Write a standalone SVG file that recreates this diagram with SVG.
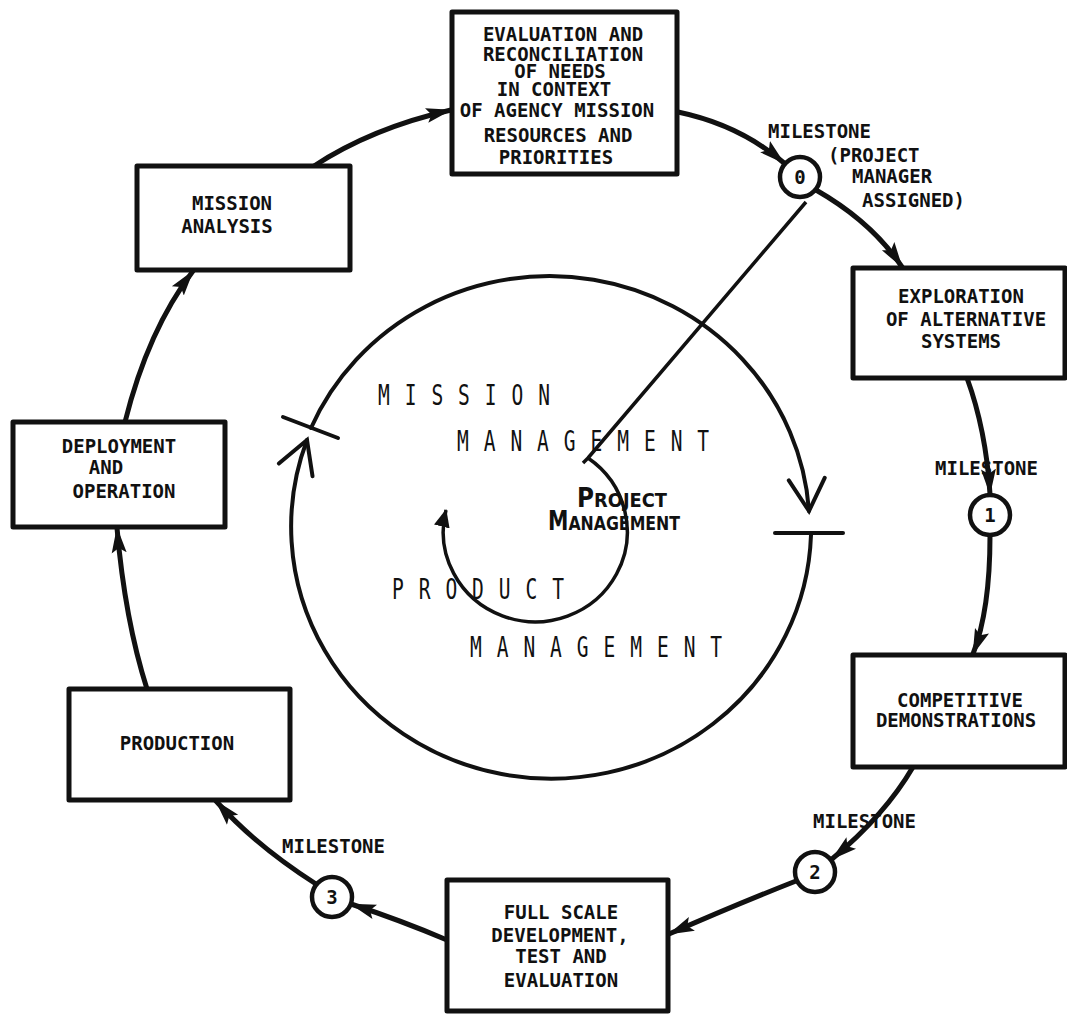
<svg xmlns="http://www.w3.org/2000/svg" width="1067" height="1021" viewBox="0 0 1067 1021">
  <defs>
    <style>
      .box { fill: #fff; stroke: #111; stroke-width: 5; stroke-linejoin: round; }
      .lbl { font-family: "DejaVu Sans Mono", "Liberation Mono", monospace; font-size: 19px; font-weight: bold; fill: #111; text-anchor: middle; }
      .ms { font-family: "DejaVu Sans Mono", "Liberation Mono", monospace; font-size: 19px; font-weight: bold; fill: #111; }
      .num { font-family: "DejaVu Sans Mono", "Liberation Mono", monospace; font-size: 19px; font-weight: bold; fill: #111; text-anchor: middle; }
      .mile { fill: #fff; stroke: #111; stroke-width: 4.5; }
      .flow { fill: none; stroke: #111; stroke-width: 5; stroke-linecap: round; marker-end: url(#head); }
      .ring { fill: none; stroke: #111; stroke-width: 4; stroke-linecap: round; }
      .wide { font-family: "DejaVu Sans Mono", "Liberation Mono", monospace; font-size: 28px; fill: #111; letter-spacing: 21.3px; }
      .pm { font-family: "DejaVu Sans", "Liberation Sans", sans-serif; font-weight: bold; fill: #111; }
    </style>
    <marker id="head" markerUnits="userSpaceOnUse" viewBox="0 0 26 18" refX="25" refY="9" markerWidth="26" markerHeight="18" orient="auto">
      <path d="M0,1.5 L26,9 L0,16.5 L5,9 z" fill="#111"/>
    </marker>
    <marker id="small" markerUnits="userSpaceOnUse" viewBox="0 0 18 16" refX="17" refY="8" markerWidth="18" markerHeight="16" orient="auto">
      <path d="M0,0 L18,8 L0,16 z" fill="#111"/>
    </marker>
    <marker id="open" markerUnits="userSpaceOnUse" viewBox="-40 -22 44 44" refX="0" refY="0" markerWidth="44" markerHeight="44" orient="auto">
      <path d="M-32,-18 L0,0 L-32,18" fill="none" stroke="#111" stroke-width="4" stroke-linecap="round" stroke-linejoin="miter"/>
    </marker>
  </defs>

  <!-- central management loops -->
  <g id="management-cycle">
    <path class="ring" d="M 311 428 A 260 252 0 0 1 809 511" marker-end="url(#open)"/>
    <path class="ring" d="M 811 535 A 260 252 0 1 1 307 440" marker-end="url(#open)"/>
    <line class="ring" x1="283" y1="417" x2="338" y2="438"/>
    <line class="ring" x1="775" y1="533" x2="843" y2="533"/>
    <path d="M 806 202 L 588 458 M 583 463 L 588 458 A 92 90 0 1 1 446 510" fill="none" stroke="#111" stroke-width="3.5" stroke-linejoin="miter" marker-end="url(#small)"/>
    <text class="wide" transform="translate(378,405) scale(0.7,1)">MISSION</text>
    <text class="wide" transform="translate(457,451) scale(0.7,1)">MANAGEMENT</text>
    <text class="wide" transform="translate(392,599) scale(0.7,1)">PRODUCT</text>
    <text class="wide" transform="translate(470,657) scale(0.7,1)">MANAGEMENT</text>
    <text class="pm" x="577" y="507" textLength="90" lengthAdjust="spacingAndGlyphs"><tspan font-size="26">P</tspan><tspan font-size="20">ROJECT</tspan></text>
    <text class="pm" x="548" y="530" textLength="132" lengthAdjust="spacingAndGlyphs"><tspan font-size="26">M</tspan><tspan font-size="20">ANAGEMENT</tspan></text>
  </g>

  <!-- connectors between phases -->
  <g id="connectors">
    <path class="flow" d="M 314 166 Q 372 128 451 110"/>
    <path class="flow" d="M 678 112 Q 740 125 784 163"/>
    <path class="flow" d="M 816 190 Q 872 222 902 267"/>
    <path class="flow" d="M 967 378 Q 986 430 990 494"/>
    <path class="flow" d="M 990 536 Q 990 610 973 654"/>
    <path class="flow" d="M 913 767 Q 885 815 832 859"/>
    <path class="flow" d="M 796 881 Q 735 905 669 934"/>
    <path class="flow" d="M 447 940 Q 400 920 351 904"/>
    <path class="flow" d="M 316 884 Q 255 845 216 801"/>
    <path class="flow" d="M 147 689 Q 125 620 117 528"/>
    <path class="flow" d="M 125 422 Q 148 330 193 271"/>
  </g>

  <g id="evaluation">
    <rect class="box" x="452" y="12" width="225" height="162"/>
    <text class="lbl" x="563" y="41">EVALUATION AND</text>
    <text class="lbl" x="563" y="61">RECONCILIATION</text>
    <text class="lbl" x="560" y="78">OF NEEDS</text>
    <text class="lbl" x="554" y="96">IN CONTEXT</text>
    <text class="lbl" x="557" y="117">OF AGENCY MISSION</text>
    <text class="lbl" x="558" y="142">RESOURCES AND</text>
    <text class="lbl" x="556" y="164">PRIORITIES</text>
  </g>

  <g id="milestone-0">
    <circle class="mile" cx="800" cy="177" r="20"/>
    <text class="num" x="800" y="184">0</text>
    <text class="ms" x="768" y="138">MILESTONE</text>
    <text class="ms" x="828" y="162">(PROJECT</text>
    <text class="ms" x="852" y="183">MANAGER</text>
    <text class="ms" x="862" y="207">ASSIGNED)</text>
  </g>

  <g id="exploration">
    <rect class="box" x="853" y="268" width="212" height="110"/>
    <text class="lbl" x="961" y="303">EXPLORATION</text>
    <text class="lbl" x="966" y="326">OF ALTERNATIVE</text>
    <text class="lbl" x="961" y="348">SYSTEMS</text>
  </g>

  <g id="milestone-1">
    <circle class="mile" cx="990" cy="515" r="20"/>
    <text class="num" x="990" y="522">1</text>
    <text class="ms" x="935" y="475">MILESTONE</text>
  </g>

  <g id="competitive">
    <rect class="box" x="853" y="655" width="212" height="112"/>
    <text class="lbl" x="960" y="707">COMPETITIVE</text>
    <text class="lbl" x="956" y="727">DEMONSTRATIONS</text>
  </g>

  <g id="milestone-2">
    <circle class="mile" cx="815" cy="872" r="20"/>
    <text class="num" x="815" y="879">2</text>
    <text class="ms" x="813" y="828">MILESTONE</text>
  </g>

  <g id="full-scale">
    <rect class="box" x="447" y="880" width="221" height="131"/>
    <text class="lbl" x="561" y="919">FULL SCALE</text>
    <text class="lbl" x="560" y="942">DEVELOPMENT,</text>
    <text class="lbl" x="561" y="963">TEST AND</text>
    <text class="lbl" x="561" y="987">EVALUATION</text>
  </g>

  <g id="milestone-3">
    <circle class="mile" cx="332" cy="897" r="20"/>
    <text class="num" x="332" y="904">3</text>
    <text class="ms" x="282" y="853">MILESTONE</text>
  </g>

  <g id="production">
    <rect class="box" x="69" y="689" width="221" height="111"/>
    <text class="lbl" x="177" y="750">PRODUCTION</text>
  </g>

  <g id="deployment">
    <rect class="box" x="13" y="422" width="212" height="105"/>
    <text class="lbl" x="119" y="453">DEPLOYMENT</text>
    <text class="lbl" x="106" y="474">AND</text>
    <text class="lbl" x="124" y="498">OPERATION</text>
  </g>

  <g id="mission-analysis">
    <rect class="box" x="137" y="166" width="213" height="104"/>
    <text class="lbl" x="232" y="210">MISSION</text>
    <text class="lbl" x="227" y="233">ANALYSIS</text>
  </g>
</svg>
